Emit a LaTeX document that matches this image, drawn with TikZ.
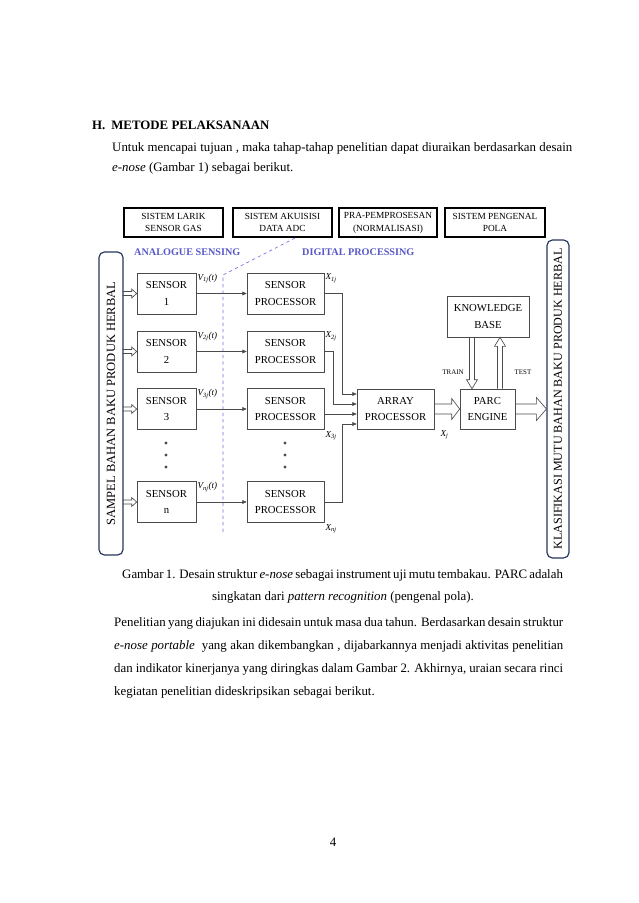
\documentclass[tikz,border=0pt]{standalone}
\usepackage{fontspec}
\setmainfont{Liberation Serif}
\usetikzlibrary{arrows.meta,calc,positioning}

\definecolor{sensblue}{RGB}{88,88,200}
\definecolor{divblue}{RGB}{110,110,225}
\definecolor{sidenavy}{RGB}{40,55,95}
\definecolor{blkgray}{RGB}{75,75,75}

\def\px{0.9326pt}
\newcommand{\justline}[2]{\makebox[#1][s]{#2}}
% hollow arrow pointing right: start, end, half shaft, half head, head length
\newcommand{\hollowh}[5]{%
  \draw[hollowline] ($(#1)+(0,-#3)$) -- ($(#2)+(-#5,-#3)$) -- ($(#2)+(-#5,-#4)$) -- (#2)
    -- ($(#2)+(-#5,#4)$) -- ($(#2)+(-#5,#3)$) -- ($(#1)+(0,#3)$);}
% hollow arrow vertical: start, end, half shaft, half head, head length, 1=down/-1=up
\newcommand{\hollowv}[6]{%
  \draw[hollowline] ($(#1)+(-#3,0)$) -- ($(#2)+(-#3,{-(#6)*(#5)})$) -- ($(#2)+(-#4,{-(#6)*(#5)})$) -- (#2)
    -- ($(#2)+(#4,{-(#6)*(#5)})$) -- ($(#2)+(#3,{-(#6)*(#5)})$) -- ($(#1)+(#3,0)$);}

\tikzset{
  body/.style={inner sep=0pt, font=\fontsize{12}{14}\selectfont},
  sysbox/.style={draw, line width=1.2pt, inner sep=0pt, align=center,
    minimum height=29*\px, font=\fontsize{8.7}{12}\selectfont},
  blk/.style={draw=blkgray, line width=0.6pt, inner sep=0pt, align=center,
    minimum height=41*\px, font=\fontsize{10}{15.5}\selectfont},
  side/.style={draw=sidenavy, line width=1.1pt, rounded corners=5pt, inner sep=0pt},
  sidetext/.style={rotate=90, inner sep=0pt},
  zone/.style={text=sensblue, font=\bfseries\fontsize{9.5}{10}\selectfont, inner sep=0pt},
  vlab/.style={inner sep=1pt, font=\itshape\fontsize{8.5}{9}\selectfont},
  tinylab/.style={inner sep=0pt, font=\fontsize{6.5}{7}\selectfont},
  sig/.style={draw=blkgray, line width=0.6pt, -{Triangle[length=4pt,width=3.5pt]}},
  hollowline/.style={draw=blkgray, line width=0.6pt, line join=miter}
}

\begin{document}
\begin{tikzpicture}[x=\px, y=-\px]
      \fill[white] (0,0) rectangle (638,903);
      \useasboundingbox (0,0) rectangle (638,903);
      %text above
      \node[body, anchor=base west] (txthead) at (92,130) {\bfseries H.\hspace{5.5pt}METODE PELAKSANAAN};
      \node[body, anchor=base west] (txtintroA) at (112,152) {\justline{429pt}{Untuk mencapai tujuan , maka tahap-tahap penelitian dapat diuraikan berdasarkan desain}};
      \node[body, anchor=base west] (txtintroB) at (112,172) {\textit{e-nose} (Gambar 1) sebagai berikut.};
      %system boxes
      \node[sysbox, minimum width=99*\px] (larik) at (173.5,222.5) {SISTEM LARIK\\SENSOR GAS};
      \node[sysbox, minimum width=99*\px] (akuisisi) at (282.5,222.5) {SISTEM AKUISISI\\DATA ADC};
      \node[sysbox, minimum width=98*\px] (prapros) at (388,222.5) {PRA-PEMPROSESAN\\(NORMALISASI)};
      \node[sysbox, minimum width=100*\px] (pengenal) at (495,222.5) {SISTEM PENGENAL\\POLA};
      \node[zone, anchor=west] (analog) at (134,252) {ANALOGUE SENSING};
      \node[zone, anchor=west] (digital) at (302,252) {DIGITAL PROCESSING};
      \draw[divblue, dashed, line width=0.6pt] (295,238) -- (223,275) -- (223,533);
      %side boxes
      \node[side, minimum width=24*\px, minimum height=303*\px] (sampel) at (111,403.5) {};
      \node[sidetext, font=\fontsize{11.7}{12}\selectfont] (sampeltxt) at (sampel.center) {SAMPEL BAHAN BAKU PRODUK HERBAL};
      \node[side, minimum width=22*\px, minimum height=318*\px] (klas) at (558,399) {};
      \node[sidetext, font=\fontsize{11.3}{12}\selectfont] (klastxt) at (klas.center) {KLASIFIKASI MUTU BAHAN BAKU PRODUK HERBAL};
      %sensors and sensor processors
      \foreach \i/\yy in {1/293.5, 2/351.5, 3/409, n/502} {
        \node[blk, minimum width=59*\px] (s\i) at (166.5,\yy) {SENSOR\\\i};
        \node[blk, minimum width=77*\px] (p\i) at (285.5,\yy) {SENSOR\\PROCESSOR};
        \node[vlab, anchor=north west] (v\i) at (s\i.north east) {V\textsubscript{\i j}(t)};
        \coordinate (src\i) at ($(sampel.east |- s\i)+(-1,0)$);
        \hollowh{src\i}{s\i.west}{2}{4.5}{5}
        \draw[sig] (s\i.east) -- (p\i.west);
      }
      \foreach \yy in {443,455,467} {
        \fill[blkgray] (166,\yy) circle (1.5pt);
        \fill[blkgray] (285,\yy) circle (1.5pt);
      }
      \node[vlab, anchor=north west] (x1) at (p1.north east) {X\textsubscript{1j}};
      \node[vlab, anchor=north west] (x2) at (p2.north east) {X\textsubscript{2j}};
      \node[vlab, anchor=north west] (x3) at (p3.south east) {X\textsubscript{3j}};
      \node[vlab, anchor=north west] (xn) at (pn.south east) {X\textsubscript{nj}};
      %array, parc, knowledge base
      \node[blk, minimum width=77*\px, minimum height=40*\px] (array) at (395.5,409) {ARRAY\\PROCESSOR};
      \node[blk, minimum width=55*\px, minimum height=40*\px] (parc) at (487.5,409) {PARC\\ENGINE};
      \node[blk, minimum width=82*\px] (kb) at (488,316.5) {KNOWLEDGE\\BASE};
      \node[vlab, anchor=north west] (xj) at ([xshift=5*\px]array.south east) {X\textsubscript{j}};
      \coordinate (arr1) at ($(array.west)+(0,-15)$);
      \coordinate (arr2) at ($(array.west)+(0,-5)$);
      \coordinate (arr3) at ($(array.west)+(0,5)$);
      \coordinate (arr4) at ($(array.west)+(0,15)$);
      \draw[sig] (p1.east) -- ++(18,0) |- (arr1);
      \draw[sig] (p2.east) -- ++(9,0) |- (arr2);
      \draw[sig] (p3.east |- arr3) -- (arr3);
      \draw[sig] (pn.east) -- ++(18,0) |- (arr4);
      \coordinate (outend) at (parc.east -| klas.west);
      \hollowh{array.east}{parc.west}{5}{10.5}{8}
      \hollowh{parc.east}{outend}{5}{11.5}{10}
      \coordinate (trainA) at ([xshift=-16*\px]kb.south);
      \coordinate (trainB) at (trainA |- parc.north);
      \coordinate (testA) at ([xshift=12*\px]kb.south |- parc.north);
      \coordinate (testB) at ([xshift=12*\px]kb.south);
      \hollowv{trainA}{trainB}{2.5}{5.5}{9}{1}
      \hollowv{testA}{testB}{2.5}{5.5}{9}{-1}
      \node[tinylab] (train) at (453,372) {TRAIN};
      \node[tinylab] (test) at (523,372) {TEST};
      %caption and text below
      \node[body, anchor=base west] (capA) at (122,578) {\justline{411pt}{Gambar 1. Desain struktur \textit{e-nose} sebagai instrument uji mutu tembakau. PARC adalah}};
      \node[body, anchor=base] (capB) at (343,600) {singkatan dari \textit{pattern recognition} (pengenal pola).};
      \node[body, anchor=base west] (parA) at (114,626) {\justline{418.7pt}{Penelitian yang diajukan ini didesain untuk masa dua tahun. Berdasarkan desain struktur}};
      \node[body, anchor=base west] (parB) at (114,649) {\justline{418.7pt}{\textit{e-nose portable} \ yang akan dikembangkan , dijabarkannya menjadi aktivitas penelitian}};
      \node[body, anchor=base west] (parC) at (114,672) {\justline{418.7pt}{dan indikator kinerjanya yang diringkas dalam Gambar 2. Akhirnya, uraian secara rinci}};
      \node[body, anchor=base west] (parD) at (114,695) {kegiatan penelitian dideskripsikan sebagai berikut.};
      \node[body, anchor=base] (pagenum) at (333,846) {4};
\end{tikzpicture}
\end{document}
